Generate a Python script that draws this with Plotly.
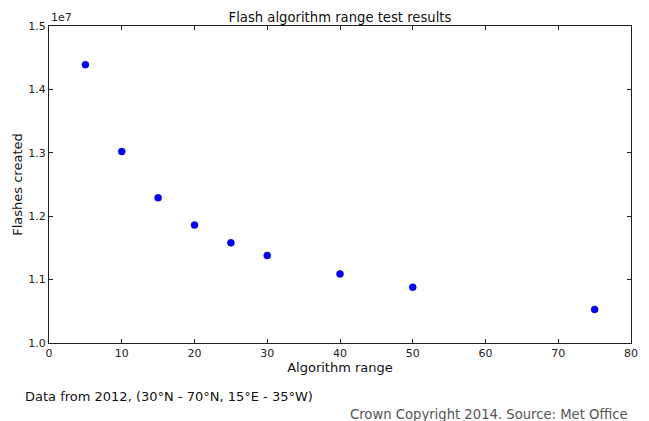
import plotly.graph_objects as go

# algorithm range vs number of flashes created
algorithm_range = [5, 10, 15, 20, 25, 30, 40, 50, 75]
flashes_created = [14390000, 13020000, 12290000, 11860000, 11580000,
                   11380000, 11090000, 10880000, 10530000]

x_ticks = [0, 10, 20, 30, 40, 50, 60, 70, 80]
y_ticks = [10000000, 11000000, 12000000, 13000000, 14000000, 15000000]
y_tick_labels = ["1.0", "1.1", "1.2", "1.3", "1.4", "1.5"]

FONT = "DejaVu Sans"

fig = go.Figure()
fig.add_trace(go.Scatter(
    x=algorithm_range,
    y=flashes_created,
    mode="markers",
    marker=dict(color="#0000ff", size=7, line=dict(color="#000080", width=0.5)),
    showlegend=False,
))

axis_common = dict(
    showline=True, mirror="ticks", linecolor="#222", linewidth=1,
    ticks="inside", ticklen=4, tickcolor="#222",
    showgrid=False, zeroline=False, automargin=False,
    tickfont=dict(family=FONT, size=11, color="#222"),
)

# the page body has an 8px margin, so the figure is a little smaller than the window
fig.update_layout(
    width=641, height=413,
    margin=dict(l=41, r=18, t=18, b=78),
    paper_bgcolor="white", plot_bgcolor="white",
    font=dict(family=FONT, color="#111"),
    title=dict(text="Flash algorithm range test results", xref="paper", x=0.5,
               xanchor="center", y=0.978, yanchor="middle",
               font=dict(size=13.2, color="#111")),
    xaxis=dict(range=[0, 80], tickvals=x_ticks,
               title=dict(text="Algorithm range", font=dict(size=13), standoff=0),
               **axis_common),
    yaxis=dict(range=[10000000, 15000000], tickvals=y_ticks, ticktext=y_tick_labels,
               title=dict(text="Flashes created", font=dict(size=13), standoff=2),
               **axis_common),
    annotations=[
        dict(text="1e7", xref="paper", yref="paper", x=0, y=1, xanchor="left",
             yanchor="bottom", showarrow=False, font=dict(size=11, color="#222")),
        dict(text="Data from 2012, (30°N - 70°N, 15°E - 35°W)", xref="paper", yref="paper",
             x=-0.045, y=-0.170, xanchor="left", yanchor="middle", showarrow=False,
             font=dict(size=13, color="#111")),
        dict(text="Crown Copyright 2014. Source: Met Office", xref="paper", yref="paper",
             x=0.998, y=-0.224, xanchor="right", yanchor="middle", showarrow=False,
             font=dict(size=13.2, color="#555")),
    ],
)

fig.write_html("out.html")
